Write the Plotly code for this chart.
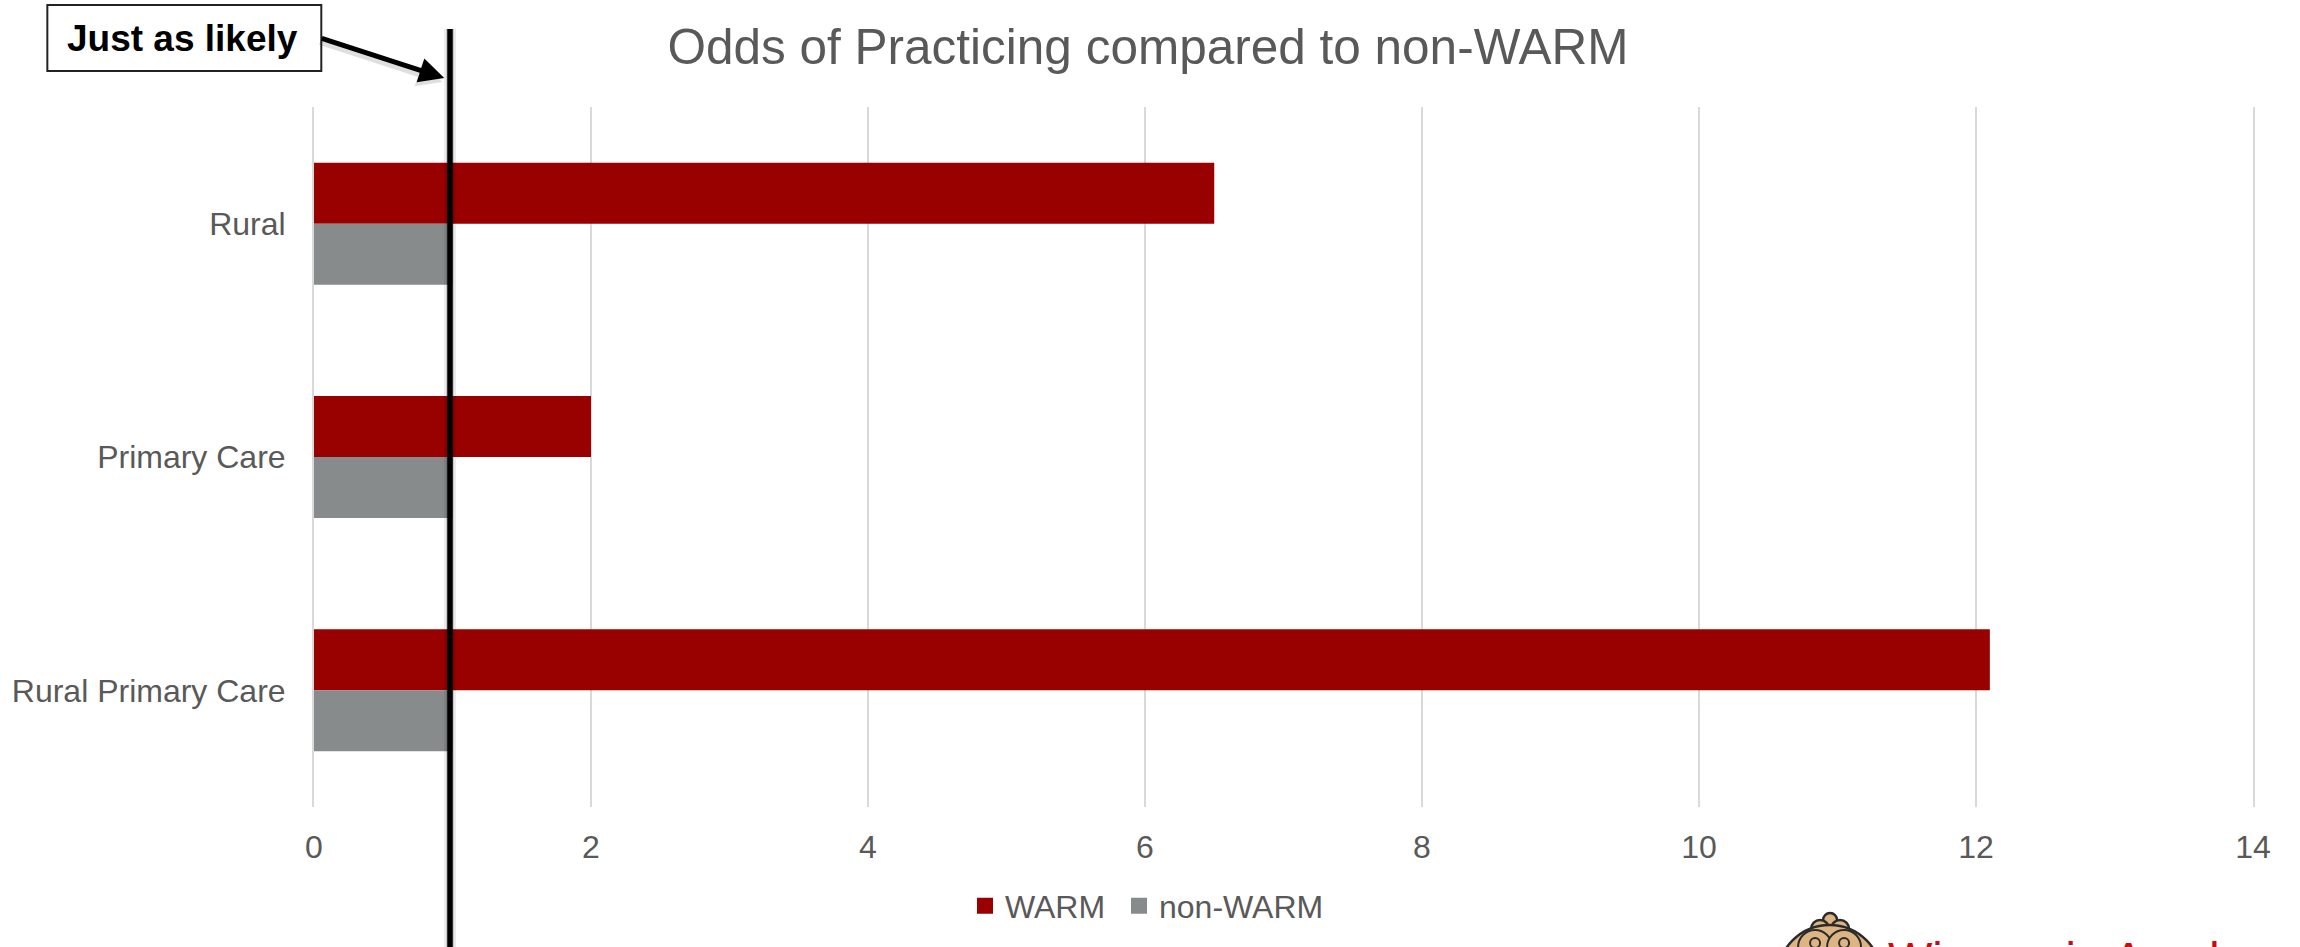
import plotly.graph_objects as go

categories = ["Rural", "Primary Care", "Rural Primary Care"]
warm = [6.5, 2, 12.1]
non_warm = [1, 1, 1]
x_ticks = [0, 2, 4, 6, 8, 10, 12, 14]
likely_line = 0.982

W, H = 2300, 947
L, R, T, B = 313.7, 2253, 107, 807
text_grey = "#595959"
red = "#990000"
grey = "#888B8B"
grid = "#D9D9D9"


def px(x):
    return (x - L) / (R - L)


def py(y):
    return (B - y) / (B - T)


fig = go.Figure()
fig.add_trace(go.Bar(y=categories, x=warm, name="WARM", orientation="h", showlegend=False,
                     marker=dict(color=red, line_width=0)))
fig.add_trace(go.Bar(y=categories, x=non_warm, name="non-WARM", orientation="h", showlegend=False,
                     marker=dict(color=grey, line_width=0)))
# legend keys, bigger than the ones bars get
for name, colour in [("WARM\u00a0", red), ("non-WARM", grey)]:
    fig.add_trace(go.Scatter(x=[None], y=[None], mode="markers", name=name,
                             marker=dict(symbol="square", size=16, color=colour)))

fig.update_layout(
    width=W, height=H,
    margin=dict(l=L, r=W - R, t=T, b=H - B, autoexpand=False),
    barmode="group", bargap=0.477, bargroupgap=0,
    plot_bgcolor="white", paper_bgcolor="white",
    font=dict(family="Liberation Sans, Arial, sans-serif", size=32, color=text_grey),
    title=dict(text="Odds of Practicing compared to non-WARM", font=dict(size=49.5, color=text_grey),
               x=1148 / W, xanchor="center", y=1 - 47 / H, yanchor="middle"),
    legend=dict(orientation="h", x=965 / W, y=1 - 906 / H, xanchor="left", yanchor="middle",
                xref="container", yref="container", traceorder="normal", bgcolor="rgba(0,0,0,0)",
                font=dict(size=32), itemwidth=30),
    showlegend=True,
)
fig.update_xaxes(range=[0, 14], tickvals=x_ticks, showgrid=True, gridcolor=grid, gridwidth=2,
                 zeroline=False, showline=False, ticks="", ticklabelstandoff=18)
# plotly drops the gridlines on the range ends, the y axis line stands in for 0 and 14
fig.update_yaxes(categoryorder="array", categoryarray=categories, autorange="reversed",
                 showgrid=False, zeroline=False, showline=True, mirror=True, linecolor=grid, linewidth=2,
                 ticks="", ticklabelstandoff=20)

# "just as likely" reference line, with a soft shadow behind it
for width, colour in [(12, "rgba(0,0,0,0.08)"), (8, "rgba(0,0,0,0.14)"), (5.5, "black")]:
    fig.add_shape(type="line", xref="x", yref="paper", x0=likely_line, x1=likely_line, y0=py(947), y1=py(29),
                  line=dict(color=colour, width=width), layer="above")

# callout box and its arrow
fig.add_shape(type="rect", xref="paper", yref="paper", x0=px(47), x1=px(321), y0=py(71), y1=py(5),
              fillcolor="white", line=dict(color="#222222", width=2), layer="above")
fig.add_annotation(xref="paper", yref="paper", x=px(182), y=py(39), xanchor="center", yanchor="middle",
                   text="<b>Just as likely</b>", showarrow=False, font=dict(size=37, color="black"))
for dx, dy, colour in [(-2, 4, "rgba(0,0,0,0.12)"), (0, 0, "black")]:
    fig.add_annotation(xref="paper", yref="paper", x=px(444 + dx), y=py(78 + dy), ax=-124, ay=-40,
                       axref="pixel", ayref="pixel", text="", showarrow=True,
                       arrowhead=2, arrowsize=1, arrowwidth=5, arrowcolor=colour, standoff=0)


# logo at the bottom edge, mostly cut off by the page
def circle(cx, cy, r, fill, width=2.5):
    fig.add_shape(type="circle", xref="paper", yref="paper", x0=px(cx - r), x1=px(cx + r), y0=py(cy + r), y1=py(cy - r),
                  fillcolor=fill, line=dict(color="#2B2B2B", width=width), layer="above")


tan = "#DDB583"
circle(1830, 920, 7, tan)
circle(1820, 929, 9, tan)
circle(1840, 929, 9, tan)
circle(1829.5, 977, 52, tan)
for cx in (1815, 1844):
    circle(cx, 947, 17, tan, 2)
    circle(cx, 943, 5, tan, 2)
fig.add_annotation(xref="paper", yref="paper", x=px(1886), y=py(958), xanchor="left", yanchor="middle",
                   text="Wisconsin Academy", showarrow=False, font=dict(size=47, color="#CC0A14"))

# drop the browser's default page margin so the figure fills the window
fig.write_html("out.html", config=dict(displayModeBar=False),
               post_script="document.body.style.margin='0';document.body.style.overflow='hidden';")
